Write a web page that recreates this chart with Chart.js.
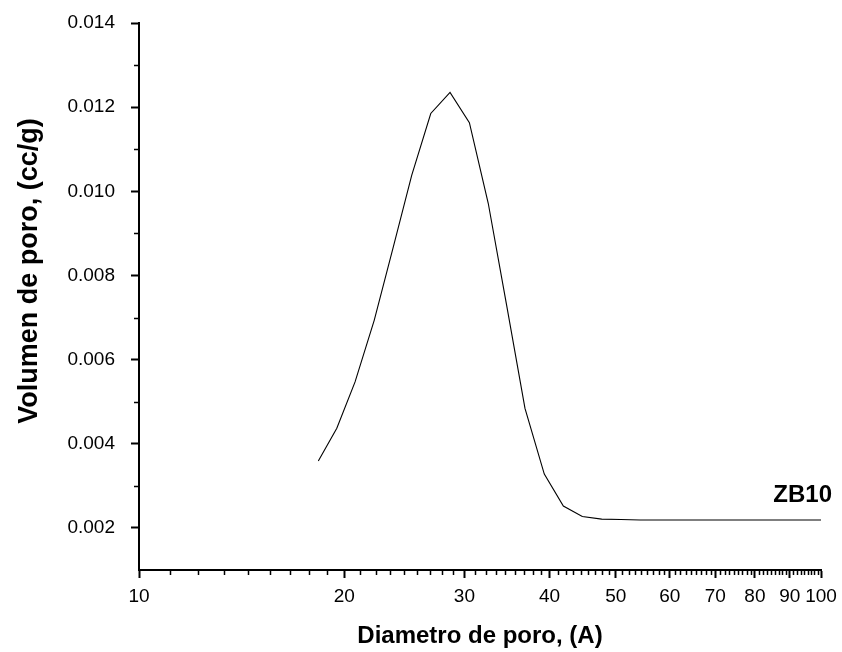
<!DOCTYPE html>
<html>
<head>
<meta charset="utf-8">
<title>ZB10 - Volumen de poro</title>
<script src="https://cdn.jsdelivr.net/npm/chart.js@4.4.1/dist/chart.umd.min.js"></script>
<style>
  html, body { margin: 0; padding: 0; background: #fff; }
  #wrap { width: 842px; height: 652px; position: relative; }
</style>
</head>
<body>
<div id="wrap"><canvas id="chart-pore"></canvas></div>
<script>
// ── Data ──
const poreDiameter = [
  18.32, 19.50, 20.74, 22.13, 23.61, 25.11, 26.78, 28.58, 30.51, 32.52,
  34.59, 36.81, 39.29, 41.90, 44.67, 47.69, 50.9, 54.3, 57.9, 61.8,
  65.9, 70.3, 75.0, 80.0, 85.4, 91.1, 100
];
const poreVolume = [
  0.00359, 0.00437, 0.00547, 0.00694, 0.00869, 0.01038, 0.01185, 0.01235, 0.01163, 0.00971,
  0.00730, 0.00484, 0.00328, 0.00252, 0.00227, 0.00221, 0.00220, 0.00219, 0.00219, 0.00219,
  0.00219, 0.00219, 0.00219, 0.00219, 0.00219, 0.00219, 0.00219
];
const xTicks = [10, 20, 30, 40, 50, 60, 70, 80, 90, 100];
const yTicks = [0.002, 0.004, 0.006, 0.008, 0.010, 0.012, 0.014];
const yMinorTicks = [0.003, 0.005, 0.007, 0.009, 0.011, 0.013];
const seriesLabel = "ZB10";

const FONT = "'Liberation Sans', Arial, Helvetica, sans-serif";

// ── Minor ticks, y title and series label ──
const decorPlugin = {
  id: "decor",
  afterDraw(chart) {
    const ctx  = chart.ctx;
    const area = chart.chartArea;
    const xs   = chart.scales.x;
    const ys   = chart.scales.y;

    ctx.save();
    ctx.strokeStyle = "#000";
    ctx.lineWidth = 1.5;
    ctx.beginPath();
    // x: 8 evenly spaced minor ticks between each pair of majors
    for (let i = 0; i < xTicks.length - 1; i++) {
      const step = (xTicks[i + 1] - xTicks[i]) / 9;
      for (let k = 1; k <= 8; k++) {
        const px = Math.round(xs.getPixelForValue(xTicks[i] + k * step)) + 0.5;
        ctx.moveTo(px, area.bottom);
        ctx.lineTo(px, area.bottom + 5);
      }
    }
    yMinorTicks.forEach(v => {
      const py = Math.round(ys.getPixelForValue(v)) + 0.5;
      ctx.moveTo(area.left, py);
      ctx.lineTo(area.left - 5, py);
    });
    ctx.stroke();

    // y axis title
    ctx.fillStyle = "#000";
    ctx.font = "bold 27px " + FONT;
    ctx.textAlign = "center";
    ctx.textBaseline = "alphabetic";
    ctx.translate(37, 271);
    ctx.rotate(-Math.PI / 2);
    ctx.fillText("Volumen de poro, (cc/g)", 0, 0);
    ctx.restore();

    // series label
    ctx.save();
    ctx.fillStyle = "#000";
    ctx.font = "bold 24px " + FONT;
    ctx.textAlign = "right";
    ctx.textBaseline = "alphabetic";
    ctx.fillText(seriesLabel, area.right + 11, ys.getPixelForValue(0.00262));
    ctx.restore();
  }
};

// ── Chart ──
function initChart() {
  const points = poreDiameter.map((d, i) => ({ x: d, y: poreVolume[i] }));

  const axisCommon = {
    grid: {
      display: true,
      drawOnChartArea: false,
      drawTicks: true,
      tickLength: 8,
      tickWidth: 2,
      tickColor: "#000",
    },
    border: { display: true, color: "#000", width: 2 },
  };

  new Chart(document.getElementById("chart-pore"), {
    type: "line",
    data: {
      datasets: [{
        label: seriesLabel,
        data: points,
        borderColor: "#000",
        borderWidth: 1.1,
        pointRadius: 0,
        tension: 0,
        fill: false,
      }],
    },
    options: {
      responsive: true,
      maintainAspectRatio: false,
      animation: false,
      layout: { padding: { top: 23, right: 21, left: 0, bottom: 0 } },
      plugins: {
        legend: { display: false },
        tooltip: { enabled: false },
      },
      scales: {
        x: {
          ...axisCommon,
          type: "logarithmic",
          min: 10,
          max: 100,
          afterBuildTicks: s => { s.ticks = xTicks.map(v => ({ value: v, major: true })); },
          afterFit: s => {
            s.height = 82;
            s.paddingLeft = 0;
            s.paddingRight = 0;
          },
          ticks: {
            autoSkip: false,
            maxRotation: 0,
            padding: 7,
            color: "#000",
            font: { family: FONT, size: 19 },
            callback: v => String(v),
          },
          title: {
            display: true,
            text: "Diametro de poro, (A)",
            color: "#000",
            font: { family: FONT, size: 24, weight: "bold" },
            padding: { top: 0, bottom: 1 },
          },
        },
        y: {
          ...axisCommon,
          type: "linear",
          min: 0.001,
          max: 0.014,
          afterBuildTicks: s => { s.ticks = yTicks.map(v => ({ value: v })); },
          afterFit: s => {
            s.width = 139;
            s.paddingTop = 0;
            s.paddingBottom = 0;
          },
          ticks: {
            padding: 16,
            color: "#000",
            font: { family: FONT, size: 19 },
            callback: v => Number(v).toFixed(3),
          },
        },
      },
    },
    plugins: [decorPlugin],
  });
}

document.addEventListener("DOMContentLoaded", initChart);
</script>
</body>
</html>
